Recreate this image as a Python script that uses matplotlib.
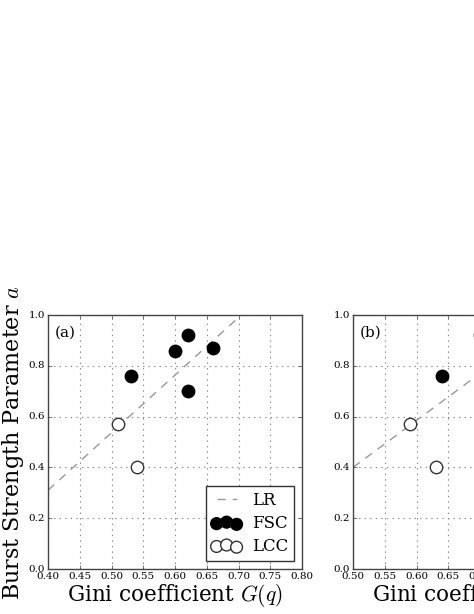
import matplotlib
matplotlib.use("Agg")
import matplotlib.pyplot as plt

plt.style.use("classic")
plt.rcParams["font.family"] = ["DejaVu Serif"]
plt.rcParams["mathtext.fontset"] = "cm"

# Panel (a)
fsc_a_x = [0.53, 0.60, 0.62, 0.62, 0.66]
fsc_a_y = [0.76, 0.86, 0.92, 0.70, 0.87]
lcc_a_x = [0.51, 0.54]
lcc_a_y = [0.57, 0.40]
lr_a_x = [0.40, 0.70]
lr_a_y = [0.31, 0.99]

# Panel (b)
fsc_b_x = [0.64]
fsc_b_y = [0.76]
lcc_b_x = [0.59, 0.63, 0.70]
lcc_b_y = [0.57, 0.40, 0.92]
lr_b_x = [0.50, 0.80]
lr_b_y = [0.40, 0.955]

xticks_a = [0.40, 0.45, 0.50, 0.55, 0.60, 0.65, 0.70, 0.75, 0.80]
xticks_b = [0.50, 0.55, 0.60, 0.65, 0.70, 0.75, 0.80, 0.85, 0.90]
yticks = [0.0, 0.2, 0.4, 0.6, 0.8, 1.0]

W, H = 474, 614
fig = plt.figure(figsize=(W / 100, H / 100), dpi=100, facecolor="white")

def setup(ax, xticks, label):
    ax.set_xlim(xticks[0], xticks[-1])
    ax.set_ylim(0, 1)
    ax.set_xticks(xticks)
    ax.set_yticks(yticks)
    ax.set_xticklabels(["%.2f" % t for t in xticks], fontsize=7.5)
    ax.set_yticklabels(["%.1f" % t for t in yticks], fontsize=7.5)
    ax.grid(True, linestyle=":", color="#888888", linewidth=0.8)
    ax.set_axisbelow(True)
    for s in ax.spines.values():
        s.set_color("#444444")
        s.set_linewidth(1.0)
    ax.tick_params(direction="in", length=3, color="#444444", pad=2)
    ax.text(0.025, 0.96, label, transform=ax.transAxes, fontsize=11,
            va="top", ha="left")
    ax.set_xlabel(r"Gini coefficient $G(q)$", fontsize=15.5, labelpad=1)

ax1 = fig.add_axes([48 / W, (H - 569) / H, 254 / W, 254 / H])
ax2 = fig.add_axes([353 / W, (H - 569) / H, 254 / W, 254 / H])

for ax, fx, fy, lx, ly, rx, ry, xt, lab in [
    (ax1, fsc_a_x, fsc_a_y, lcc_a_x, lcc_a_y, lr_a_x, lr_a_y, xticks_a, "(a)"),
    (ax2, fsc_b_x, fsc_b_y, lcc_b_x, lcc_b_y, lr_b_x, lr_b_y, xticks_b, "(b)"),
]:
    setup(ax, xt, lab)
    ax.plot(rx, ry, linestyle="--", color="#999999", linewidth=1.0, label="LR",
            dashes=(6, 5))
    ax.scatter(fx, fy, s=80, c="black", edgecolors="black", label="FSC", zorder=3)
    ax.scatter(lx, ly, s=80, facecolors="white", edgecolors="#333333",
               linewidths=1.0, label="LCC", zorder=3)

ax1.set_ylabel(r"Burst Strength Parameter $a$", fontsize=16, labelpad=2)

leg = ax1.legend(loc="lower right", scatterpoints=3, fontsize=12, frameon=True,
                 fancybox=False, borderaxespad=0.5, handlelength=1.8,
                 handletextpad=0.6, labelspacing=0.35, markerscale=0.95,
                 borderpad=0.35)
leg.get_frame().set_edgecolor("#333333")

fig.savefig("out.png", dpi=100, facecolor="white")
